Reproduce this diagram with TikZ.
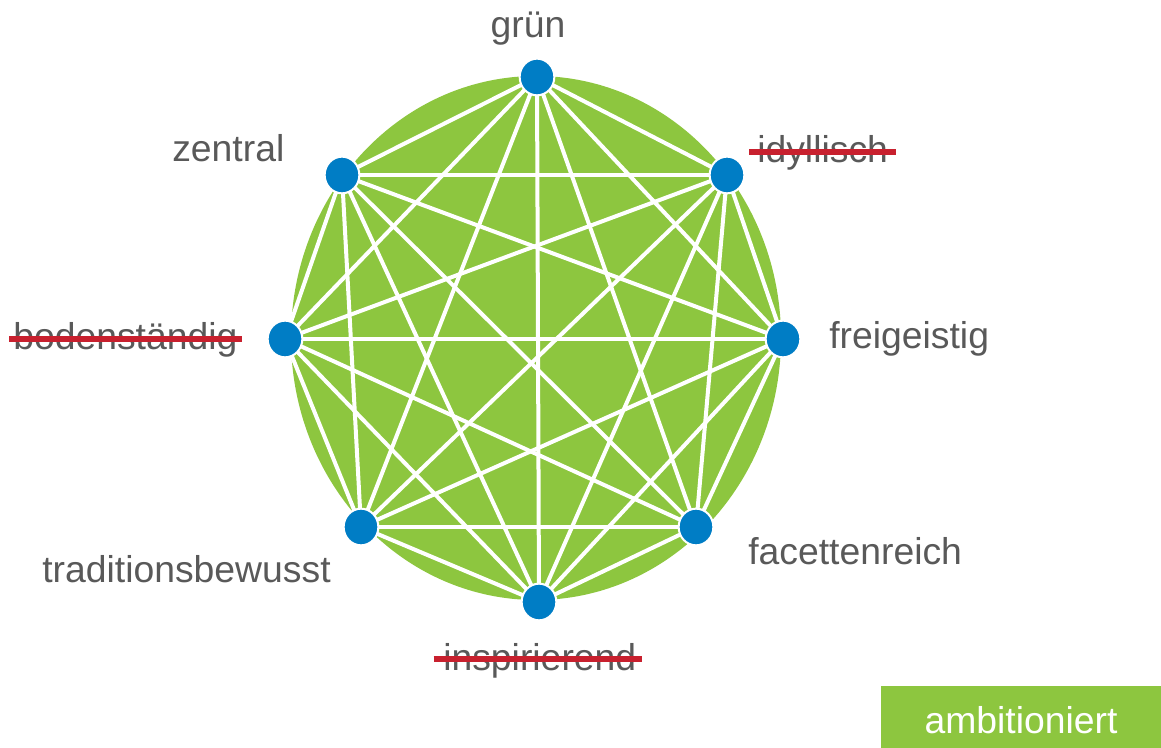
\documentclass[tikz,border=0pt]{standalone}
\usepackage{fontspec}
\setmainfont{Liberation Sans}
\usetikzlibrary{backgrounds,shapes.geometric}

\definecolor{leaf}{RGB}{141,198,63}
\definecolor{dotblue}{RGB}{0,125,197}
\definecolor{strikered}{RGB}{200,32,46}
\definecolor{textgray}{RGB}{89,89,89}

\begin{document}
\begin{tikzpicture}[x=0.75pt,y=-0.75pt]
    \tikzstyle{dot} = [ellipse, minimum width=26pt, minimum height=27.5pt, inner sep=0pt, fill=dotblue, draw=white, line width=1.5pt]
    \tikzstyle{word} = [text=textgray, font=\fontsize{28}{34}\selectfont, inner sep=0pt, text height=20pt, text depth=6pt]
    \tikzstyle{edge} = [white, line width=3pt]
    \tikzstyle{strike} = [strikered, line width=4.5pt]
    \tikzstyle{tag} = [rectangle, fill=leaf, text=white, font=\fontsize{28}{34}\selectfont, inner sep=0pt, minimum width=210.75pt, minimum height=46.5pt, text height=24pt, text depth=0pt]

    \useasboundingbox (0,0) rectangle (1161,748);

    % the eight points
    \node (gruen) [dot] at (537,77) {};
    \node (idyl)  [dot] at (727,175) {};
    \node (frei)  [dot] at (783,339) {};
    \node (facet) [dot] at (696,527) {};
    \node (inspi) [dot] at (539,602) {};
    \node (tradi) [dot] at (361,527) {};
    \node (boden) [dot] at (285,339) {};
    \node (zentr) [dot] at (342,175) {};

    % disk and all connections behind the points
    \begin{pgfonlayer}{background}
        \fill[leaf] (536,338) ellipse [x radius=245, y radius=262];
        \foreach \a [count=\i] in {gruen,idyl,frei,facet,inspi,tradi,boden,zentr} {
            \foreach \b [count=\j] in {gruen,idyl,frei,facet,inspi,tradi,boden,zentr} {
                \ifnum\j>\i \draw[edge] (\a.center) -- (\b.center); \fi
            }
        }
    \end{pgfonlayer}

    % labels
    \node (lgruen) [word, anchor=base] at (528,38) {grün};
    \node (lidyl)  [word, anchor=base west] at (757,163) {idyllisch};
    \node (lfrei)  [word, anchor=base west] at (829,349) {freigeistig};
    \node (lfacet) [word, anchor=base west] at (748,565) {facettenreich};
    \node (linspi) [word, anchor=base west] at (443,670) {inspirierend};
    \node (ltradi) [word, anchor=base west] at (42,582) {traditionsbewusst};
    \node (lboden) [word, anchor=base west] at (13,350) {bodenständig};
    \node (lzentr) [word, anchor=base west] at (172,162) {zentral};

    \draw[strike] ([xshift=-6pt,yshift=1.2pt]lidyl.west) -- ([xshift=6pt,yshift=1.2pt]lidyl.east);
    \draw[strike] ([xshift=-3pt,yshift=1.2pt]lboden.west) -- ([xshift=3pt,yshift=1.2pt]lboden.east);
    \draw[strike] ([xshift=-7pt,yshift=1.2pt]linspi.west) -- ([xshift=4pt,yshift=1.2pt]linspi.east);

    \node (ambi) [tag] at (1021,717) {ambitioniert};
\end{tikzpicture}
\end{document}
